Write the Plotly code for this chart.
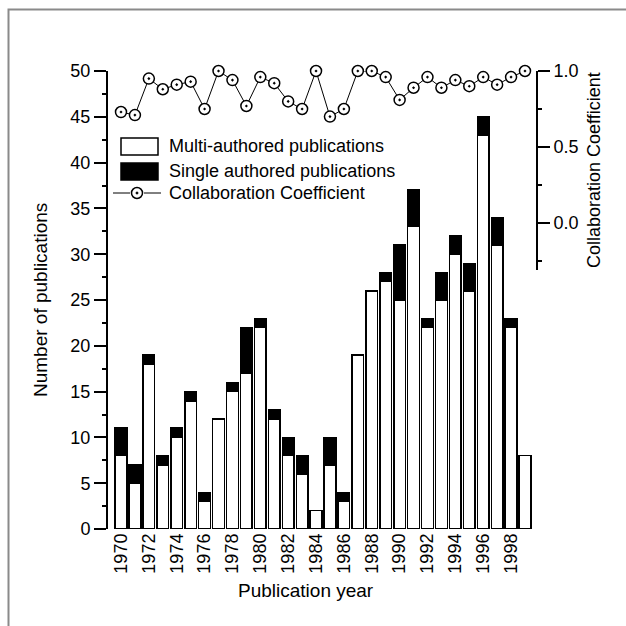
import plotly.graph_objects as go

# ---- data ----
years = list(range(1970, 2000))
multi_authored = [8, 5, 18, 7, 10, 14, 3, 12, 15, 17, 22, 12, 8, 6, 2, 7, 3, 19, 26, 27,
                  25, 33, 22, 25, 30, 26, 43, 31, 22, 8]
single_authored = [3, 2, 1, 1, 1, 1, 1, 0, 1, 5, 1, 1, 2, 2, 0, 3, 1, 0, 0, 1,
                   6, 4, 1, 3, 2, 3, 2, 3, 1, 0]
collab_coeff = [0.73, 0.71, 0.95, 0.88, 0.91, 0.93, 0.75, 1.00, 0.94, 0.77, 0.96, 0.92,
                0.80, 0.75, 1.00, 0.70, 0.75, 1.00, 1.00, 0.96, 0.81, 0.89, 0.96, 0.89,
                0.94, 0.90, 0.96, 0.91, 0.96, 1.00]
year_ticks = list(range(1970, 1999, 2))
left_ticks = list(range(0, 51, 5))
right_ticks = [0.0, 0.5, 1.0]

FONT = "Liberation Sans, Arial, sans-serif"
W = H = 626
L, R, T, B = 108, 536, 71, 529


def px(x):
    return (x - L) / (R - L)


def py(y):
    return (B - y) / (B - T)


fig = go.Figure()
fig.add_trace(go.Bar(x=years, y=multi_authored, name="Multi-authored publications",
                     marker=dict(color="white", line=dict(color="black", width=1.5)),
                     showlegend=False))
fig.add_trace(go.Bar(x=years, y=single_authored, name="Single authored publications",
                     marker=dict(color="black", line=dict(color="black", width=1.5)),
                     showlegend=False))
fig.add_trace(go.Scatter(x=years, y=collab_coeff, yaxis="y2", name="Collaboration Coefficient",
                         mode="lines+markers", cliponaxis=False,
                         line=dict(color="black", width=1),
                         marker=dict(symbol="circle-dot", size=11, color="white",
                                     line=dict(color="black", width=1.5)),
                         showlegend=False))

r2_lo = -0.31
dom2 = (B - (223 + (-r2_lo) * 152)) / (B - T)

shapes = []
# outer frame
shapes.append(dict(type="rect", xref="paper", yref="paper",
                   x0=px(8.5), x1=px(640), y0=py(640), y1=py(9.5),
                   line=dict(color="#8a8a8a", width=2), fillcolor="rgba(0,0,0,0)", layer="below"))
# legend swatches
shapes.append(dict(type="rect", xref="paper", yref="paper", x0=px(121), x1=px(158),
                   y0=py(155), y1=py(138), line=dict(color="black", width=1.5), fillcolor="white"))
shapes.append(dict(type="rect", xref="paper", yref="paper", x0=px(121), x1=px(158),
                   y0=py(180), y1=py(163), line=dict(color="black", width=1.5), fillcolor="black"))
shapes.append(dict(type="line", xref="paper", yref="paper", x0=px(113), x1=px(130),
                   y0=py(193), y1=py(193), line=dict(color="black", width=1)))
shapes.append(dict(type="line", xref="paper", yref="paper", x0=px(144), x1=px(161),
                   y0=py(193), y1=py(193), line=dict(color="black", width=1)))
shapes.append(dict(type="circle", xref="paper", yref="paper", x0=px(131.5), x1=px(142.5),
                   y0=py(198.5), y1=py(187.5), line=dict(color="black", width=1.5), fillcolor="white"))
shapes.append(dict(type="circle", xref="paper", yref="paper", x0=px(136), x1=px(138),
                   y0=py(194), y1=py(192), line=dict(color="black", width=1), fillcolor="black"))

annotations = [
    dict(text="Multi-authored publications", x=px(167), y=py(146), xref="paper", yref="paper",
         xanchor="left", yanchor="middle", showarrow=False, font=dict(size=18)),
    dict(text="Single authored publications", x=px(167), y=py(171), xref="paper", yref="paper",
         xanchor="left", yanchor="middle", showarrow=False, font=dict(size=18)),
    dict(text="Collaboration Coefficient", x=px(167), y=py(193), xref="paper", yref="paper",
         xanchor="left", yanchor="middle", showarrow=False, font=dict(size=18)),
    dict(text="Publication year", x=px(306), y=py(590), xref="paper", yref="paper",
         xanchor="center", yanchor="middle", showarrow=False, font=dict(size=19)),
    dict(text="Number of publications", x=px(40), y=py(300), xref="paper", yref="paper",
         textangle=-90, xanchor="center", yanchor="middle", showarrow=False, font=dict(size=19)),
    dict(text="Collaboration Coefficient", x=px(594), y=py(170), xref="paper", yref="paper",
         textangle=-90, xanchor="center", yanchor="middle", showarrow=False, font=dict(size=18)),
]

fig.update_layout(
    width=W, height=H, barmode="stack", bargap=0.16,
    margin=dict(l=L, r=W - R, t=T, b=H - B, pad=0),
    paper_bgcolor="white", plot_bgcolor="rgba(0,0,0,0)",
    font=dict(family=FONT, color="black", size=17),
    shapes=shapes, annotations=annotations,
    xaxis=dict(range=[1969.067, 1999.79], tickvals=year_ticks, tickangle=-90,
               showline=False, ticks="", showgrid=False, zeroline=False,
               tickfont=dict(size=18), automargin=False),
    yaxis=dict(range=[0, 50], tickvals=left_ticks, showline=True, linecolor="black", linewidth=2,
               ticks="outside", ticklen=12, tickwidth=2, tickcolor="black",
               minor=dict(dtick=2.5, tick0=0, ticks="outside", ticklen=4, tickwidth=2, tickcolor="black"),
               showgrid=False, zeroline=False, tickfont=dict(size=18), automargin=False),
    yaxis2=dict(range=[r2_lo, 1.0], domain=[dom2, 1], anchor="x", side="right",
                tickvals=right_ticks, tickformat=".1f", showline=True, linecolor="black",
                linewidth=2, ticks="outside", ticklen=12, tickwidth=2, tickcolor="black",
                minor=dict(dtick=0.25, tick0=0, ticks="outside", ticklen=4, tickwidth=2, tickcolor="black"),
                showgrid=False, zeroline=False, tickfont=dict(size=18), automargin=False),
)

fig.write_html("out.html")
